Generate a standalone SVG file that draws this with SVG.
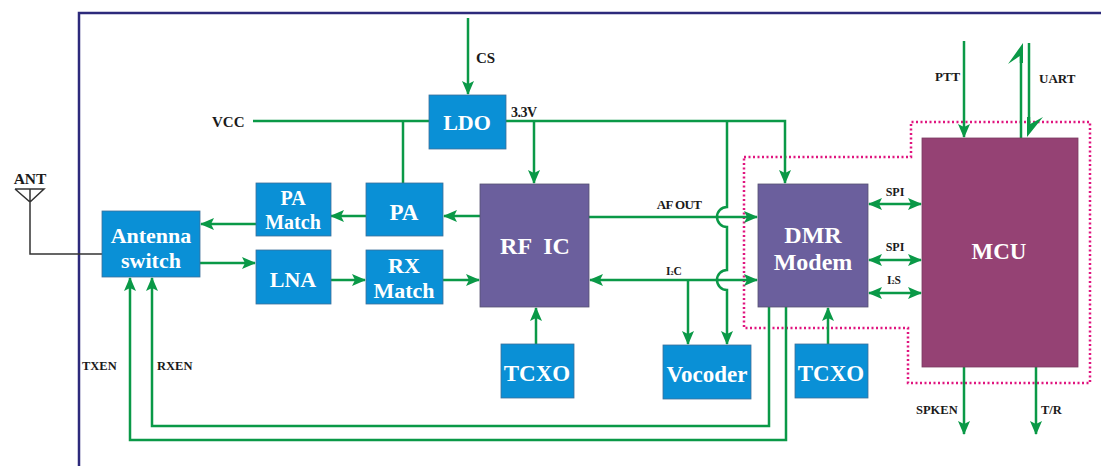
<svg xmlns="http://www.w3.org/2000/svg" width="1101" height="466" viewBox="0 0 1101 466">
<style>
.blue{fill:#0a90d6;stroke:#3d6f9a;stroke-width:0.8}
.purple{fill:#6b5f9d;stroke:#555070;stroke-width:0.8}
.mcu{fill:#954274;stroke:#7a3a60;stroke-width:0.8}
.w{font-family:"Liberation Serif","Times New Roman",serif;font-weight:bold;fill:#ffffff;text-anchor:middle}
.k{font-family:"Liberation Serif","Times New Roman",serif;font-weight:bold;fill:#1a1a1a}
.g{fill:none;stroke:#0a9947;stroke-width:2.5}
.a{marker-end:url(#ah)}
.b{marker-start:url(#ah);marker-end:url(#ah)}
</style>
<defs>
<marker id="ah" markerUnits="userSpaceOnUse" markerWidth="14" markerHeight="14" viewBox="0 0 14 14" refX="13" refY="7" orient="auto-start-reverse">
<path d="M0,1 L14,7 L0,13 L3,7 Z" fill="#0a9947"/>
</marker>
</defs>
<rect width="1101" height="466" fill="#ffffff"/>
<g id="frame">
<path d="M1101,13 H79 V466" fill="none" stroke="#2d2a7b" stroke-width="2.5"/>
</g>
<g id="boundary">
<path d="M744,157 H911 V122 H1090 V383 H908 V328 H744 Z" fill="none" stroke="#e0157f" stroke-width="2.5" stroke-dasharray="2,2.5"/>
</g>
<g id="antenna">
<path d="M15,189 H44 L30,202 L15,189 M30,189 V254 H102" fill="none" stroke="#333333" stroke-width="1.5"/>
<text class="k" x="30" y="184" font-size="15.5" text-anchor="middle">ANT</text>
</g>
<g id="connectors">
<path class="g" d="M253,121 H429"/>
<path class="g" d="M403,121 V183"/>
<path class="g a" d="M468,18 V94"/>
<path class="g a" d="M506,121 H785 V183"/>
<path class="g a" d="M534,121 V183"/>
<path class="g a" d="M727,121 V207 A10,10 0 0 0 727,227 V270 A10,10 0 0 0 727,290 V344"/>
<path class="g a" d="M589,217 H757"/>
<path class="g b" d="M590,280 H757"/>
<path class="g a" d="M688,280 V344"/>
<path class="g a" d="M480,216 H444"/>
<path class="g a" d="M366,216 H331"/>
<path class="g a" d="M256,224 H201"/>
<path class="g a" d="M200,263 H255"/>
<path class="g a" d="M331,280 H365"/>
<path class="g a" d="M443,280 H479"/>
<path class="g a" d="M536,344 V308"/>
<path class="g a" d="M828,344 V308"/>
<path class="g b" d="M869,204 H921"/>
<path class="g b" d="M869,260 H921"/>
<path class="g b" d="M869,293 H921"/>
<path class="g a" d="M964,41 V137"/>
<path class="g a" d="M964,367 V434"/>
<path class="g a" d="M1036,367 V434"/>
<path class="g a" d="M769,307 V426 H152 V278"/>
<path class="g a" d="M786,307 V440 H130 V278"/>
<path class="g" d="M1021,138 V55"/>
<polygon points="1023,43 1023,63 1019.8,63 1019.8,56 1008,64" fill="#0a9947"/>
<path class="g" d="M1029,43 V124"/>
<polygon points="1027,137 1027,117 1030.2,117 1030.2,124 1043,117" fill="#0a9947"/>
</g>
<g id="labels">
<text class="k" x="212" y="127" font-size="15">VCC</text>
<text class="k" x="476" y="63" font-size="15">CS</text>
<text class="k" x="511" y="117" font-size="14" letter-spacing="-0.5">3.3V</text>
<text class="k" x="679" y="209" font-size="13" text-anchor="middle" letter-spacing="-0.6">AF OUT</text>
<text class="k" x="674" y="275" font-size="11.5" text-anchor="middle">I<tspan font-size="6">2</tspan>C</text>
<text class="k" x="895" y="196" font-size="12" text-anchor="middle">SPI</text>
<text class="k" x="895" y="251" font-size="12" text-anchor="middle">SPI</text>
<text class="k" x="894" y="284" font-size="11.5" text-anchor="middle">I<tspan font-size="6">2</tspan>S</text>
<text class="k" x="935" y="81" font-size="13">PTT</text>
<text class="k" x="1039" y="83" font-size="13">UART</text>
<text class="k" x="916" y="414" font-size="12.5">SPKEN</text>
<text class="k" x="1041" y="414" font-size="12.5">T/R</text>
<text class="k" x="82" y="370" font-size="12.5">TXEN</text>
<text class="k" x="157" y="370" font-size="12.5">RXEN</text>
</g>
<g id="ldo">
<rect class="blue" x="429" y="95" width="77" height="54"/>
<text class="w" x="467" y="130" font-size="22">LDO</text>
</g>
<g id="pa">
<rect class="blue" x="366" y="183" width="77" height="53"/>
<text class="w" x="404" y="220" font-size="23">PA</text>
</g>
<g id="pa-match">
<rect class="blue" x="256" y="183" width="75" height="53"/>
<text class="w" x="293" y="205" font-size="20">PA</text>
<text class="w" x="293" y="229" font-size="20">Match</text>
</g>
<g id="antenna-switch">
<rect class="blue" x="102" y="211" width="98" height="66"/>
<text class="w" x="151" y="243" font-size="22">Antenna</text>
<text class="w" x="151" y="268" font-size="22">switch</text>
</g>
<g id="lna">
<rect class="blue" x="256" y="250" width="75" height="54"/>
<text class="w" x="293" y="287" font-size="22">LNA</text>
</g>
<g id="rx-match">
<rect class="blue" x="366" y="250" width="77" height="54"/>
<text class="w" x="404" y="273" font-size="22">RX</text>
<text class="w" x="404" y="298" font-size="22">Match</text>
</g>
<g id="rf-ic">
<rect class="purple" x="480" y="184" width="109" height="123"/>
<text class="w" x="535" y="254" font-size="24">RF<tspan dx="6"> IC</tspan></text>
</g>
<g id="tcxo-rf">
<rect class="blue" x="501" y="344" width="73" height="54"/>
<text class="w" x="537" y="381" font-size="23">TCXO</text>
</g>
<g id="vocoder">
<rect class="blue" x="663" y="345" width="88" height="54"/>
<text class="w" x="707" y="382" font-size="23">Vocoder</text>
</g>
<g id="dmr-modem">
<rect class="purple" x="758" y="184" width="110" height="123"/>
<text class="w" x="813" y="243" font-size="24">DMR</text>
<text class="w" x="813" y="270" font-size="24">Modem</text>
</g>
<g id="tcxo-dmr">
<rect class="blue" x="795" y="344" width="73" height="54"/>
<text class="w" x="831" y="381" font-size="23">TCXO</text>
</g>
<g id="mcu">
<rect class="mcu" x="922" y="138" width="156" height="229"/>
<text class="w" x="999" y="259" font-size="23">MCU</text>
</g>
</svg>
